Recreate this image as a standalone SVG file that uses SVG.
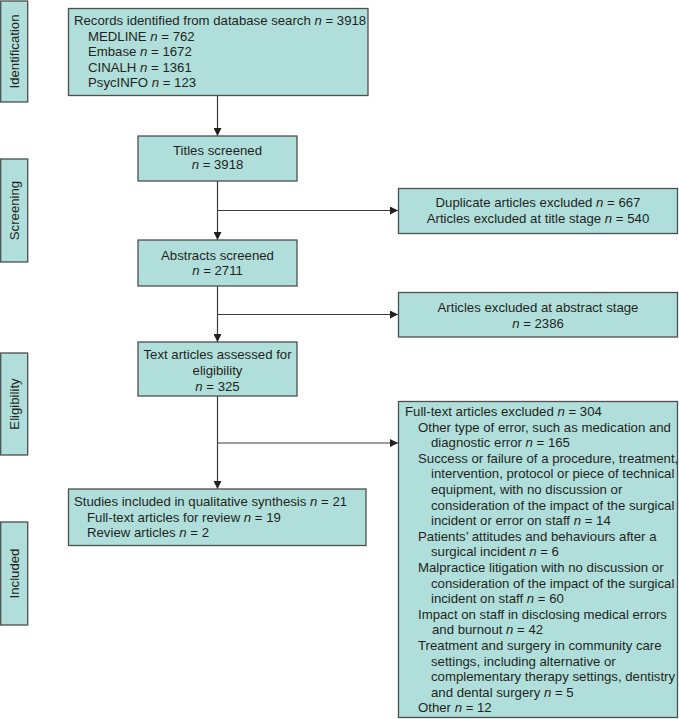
<svg xmlns="http://www.w3.org/2000/svg" width="679" height="719" viewBox="0 0 679 719">
<defs>
<style>
.box{fill:#b0dfdb;stroke:#4d4f4f;stroke-width:1.3}
text{font-family:"Liberation Sans",Arial,sans-serif;font-size:13.2px;fill:#231f20}
.c{text-anchor:middle}
.i{font-style:italic}
.ln{stroke:#3a3a3a;stroke-width:1.2;fill:none}
</style>
<marker id="ah" viewBox="0 0 10 10" refX="10" refY="5" markerWidth="8" markerHeight="8" markerUnits="userSpaceOnUse" orient="auto">
<path d="M0,0 L10,5 L0,10 Z" fill="#231f20"/>
</marker>
</defs>
<rect width="679" height="719" fill="#ffffff"/>

<g id="stage-identification"><rect class="box" x="0.7" y="1" width="27" height="101"/><text class="c" transform="translate(19,51.5) rotate(-90)">Identification</text></g>
<g id="stage-screening"><rect class="box" x="0.7" y="159" width="27" height="103"/><text class="c" transform="translate(19,210.5) rotate(-90)">Screening</text></g>
<g id="stage-eligibility"><rect class="box" x="0.7" y="353" width="27" height="102"/><text class="c" transform="translate(19,404) rotate(-90)">Eligibility</text></g>
<g id="stage-included"><rect class="box" x="0.7" y="522" width="27" height="103"/><text class="c" transform="translate(19,573.5) rotate(-90)">Included</text></g>

<g id="connectors">
<line class="ln" x1="217.5" y1="95" x2="217.5" y2="136" marker-end="url(#ah)"/>
<line class="ln" x1="217.5" y1="181" x2="217.5" y2="240" marker-end="url(#ah)"/>
<line class="ln" x1="217.5" y1="286" x2="217.5" y2="342" marker-end="url(#ah)"/>
<line class="ln" x1="217.5" y1="396" x2="217.5" y2="489" marker-end="url(#ah)"/>
<line class="ln" x1="217.5" y1="210.5" x2="398" y2="210.5" marker-end="url(#ah)"/>
<line class="ln" x1="217.5" y1="314.5" x2="398" y2="314.5" marker-end="url(#ah)"/>
<line class="ln" x1="217.5" y1="443" x2="398" y2="443" marker-end="url(#ah)"/>
</g>

<g id="records">
<rect class="box" x="68.5" y="8.5" width="299.5" height="87"/>
<text x="74" y="25">Records identified from database search <tspan class="i">n</tspan> = 3918</text>
<text x="88" y="40.5">MEDLINE <tspan class="i">n</tspan> = 762</text>
<text x="88" y="56">Embase <tspan class="i">n</tspan> = 1672</text>
<text x="88" y="71.5">CINALH <tspan class="i">n</tspan> = 1361</text>
<text x="88" y="87">PsycINFO <tspan class="i">n</tspan> = 123</text>
</g>

<g id="titles">
<rect class="box" x="138" y="136" width="159" height="45"/>
<text class="c" x="217.5" y="154.5">Titles screened</text>
<text class="c" x="217.5" y="169"><tspan class="i">n</tspan> = 3918</text>
</g>

<g id="abstracts">
<rect class="box" x="138" y="240" width="159" height="46"/>
<text class="c" x="217.5" y="259.5">Abstracts screened</text>
<text class="c" x="217.5" y="274.5"><tspan class="i">n</tspan> = 2711</text>
</g>

<g id="fulltext">
<rect class="box" x="138" y="342" width="159" height="54"/>
<text class="c" x="217.5" y="359">Text articles assessed for</text>
<text class="c" x="217.5" y="375">eligibility</text>
<text class="c" x="217.5" y="390.5"><tspan class="i">n</tspan> = 325</text>
</g>

<g id="included">
<rect class="box" x="68.5" y="489" width="297.5" height="56.5"/>
<text x="74" y="506">Studies included in qualitative synthesis <tspan class="i">n</tspan> = 21</text>
<text x="87" y="521.5">Full-text articles for review <tspan class="i">n</tspan> = 19</text>
<text x="87" y="537">Review articles <tspan class="i">n</tspan> = 2</text>
</g>

<g id="excl-title">
<rect class="box" x="398.5" y="188.5" width="279" height="45"/>
<text class="c" x="538" y="207">Duplicate articles excluded <tspan class="i">n</tspan> = 667</text>
<text class="c" x="538" y="222.5">Articles excluded at title stage <tspan class="i">n</tspan> = 540</text>
</g>

<g id="excl-abstract">
<rect class="box" x="398.5" y="292.5" width="279" height="44.5"/>
<text class="c" x="538" y="312">Articles excluded at abstract stage</text>
<text class="c" x="538" y="327.5"><tspan class="i">n</tspan> = 2386</text>
</g>

<g id="excl-fulltext">
<rect class="box" x="398.5" y="401.5" width="279" height="316"/>
<text x="405" y="416">Full-text articles excluded <tspan class="i">n</tspan> = 304</text>
<text x="418" y="431.6">Other type of error, such as medication and</text>
<text x="431" y="447.2">diagnostic error <tspan class="i">n</tspan> = 165</text>
<text x="418" y="462.8">Success or failure of a procedure, treatment,</text>
<text x="431" y="478.4">intervention, protocol or piece of technical</text>
<text x="431" y="494">equipment, with no discussion or</text>
<text x="431" y="509.6">consideration of the impact of the surgical</text>
<text x="431" y="525.2">incident or error on staff <tspan class="i">n</tspan> = 14</text>
<text x="418" y="540.8">Patients’ attitudes and behaviours after a</text>
<text x="431" y="556.4">surgical incident <tspan class="i">n</tspan> = 6</text>
<text x="418" y="572">Malpractice litigation with no discussion or</text>
<text x="431" y="587.6">consideration of the impact of the surgical</text>
<text x="431" y="603.2">incident on staff <tspan class="i">n</tspan> = 60</text>
<text x="418" y="618.8">Impact on staff in disclosing medical errors</text>
<text x="432" y="634.4">and burnout <tspan class="i">n</tspan> = 42</text>
<text x="418" y="650">Treatment and surgery in community care</text>
<text x="431" y="665.6">settings, including alternative or</text>
<text x="431" y="681.2">complementary therapy settings, dentistry</text>
<text x="431" y="696.8">and dental surgery <tspan class="i">n</tspan> = 5</text>
<text x="418" y="712.4">Other <tspan class="i">n</tspan> = 12</text>
</g>
</svg>
